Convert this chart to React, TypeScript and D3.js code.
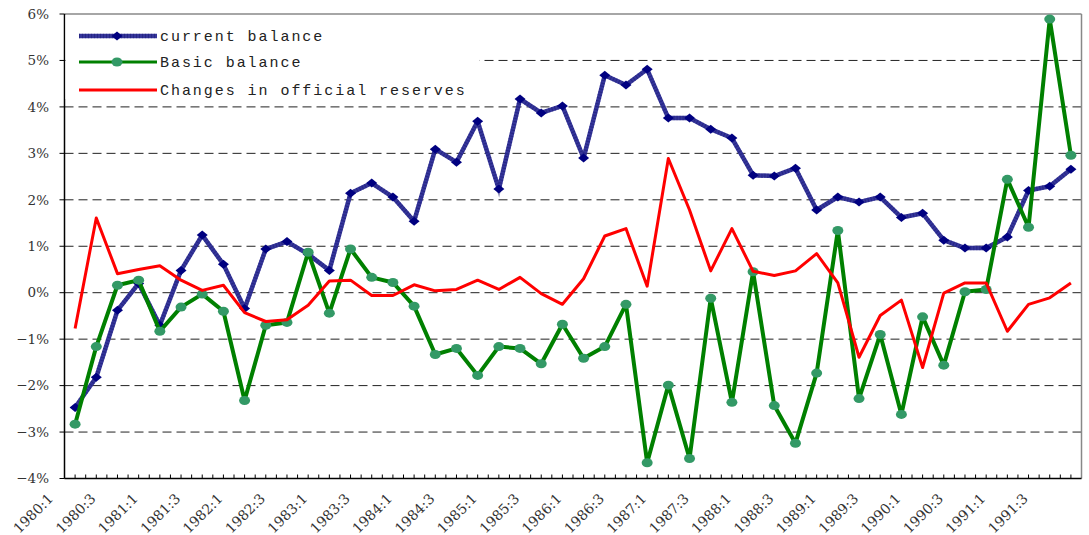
import React from 'react';
import * as d3 from 'd3';

// quarters 1980:1 .. 1991:4
const years = [1980, 1981, 1982, 1983, 1984, 1985, 1986, 1987, 1988, 1989, 1990, 1991];
const quarters = years.flatMap((y) => [1, 2, 3, 4].map((q) => `${y}:${q}`));

const yTicks = [6, 5, 4, 3, 2, 1, 0, -1, -2, -3, -4];

const currentBalance = [
  -2.47, -1.82, -0.38, 0.2, -0.7, 0.48, 1.24, 0.61, -0.34, 0.94, 1.1, 0.83,
  0.48, 2.14, 2.36, 2.06, 1.54, 3.09, 2.81, 3.69, 2.23, 4.17, 3.87, 4.02,
  2.9, 4.68, 4.47, 4.81, 3.76, 3.76, 3.52, 3.33, 2.53, 2.51, 2.68, 1.78,
  2.06, 1.95, 2.06, 1.62, 1.71, 1.13, 0.96, 0.96, 1.2, 2.2, 2.29, 2.66,
];

const basicBalance = [
  -2.83, -1.16, 0.16, 0.27, -0.83, -0.31, -0.03, -0.4, -2.32, -0.7, -0.64, 0.87,
  -0.44, 0.94, 0.33, 0.22, -0.29, -1.33, -1.2, -1.78, -1.16, -1.2, -1.53, -0.68,
  -1.41, -1.16, -0.25, -3.66, -1.99, -3.57, -0.12, -2.36, 0.45, -2.43, -3.24, -1.73,
  1.34, -2.28, -0.9, -2.62, -0.52, -1.56, 0.02, 0.07, 2.44, 1.41, 5.89, 2.96,
];

const reserveChanges = [
  -0.77, 1.61, 0.41, 0.5, 0.58, 0.27, 0.05, 0.16, -0.43, -0.62, -0.58, -0.27,
  0.25, 0.27, -0.06, -0.06, 0.17, 0.04, 0.07, 0.27, 0.07, 0.33, -0.02, -0.25,
  0.3, 1.22, 1.38, 0.14, 2.89, 1.78, 0.47, 1.38, 0.46, 0.37, 0.47, 0.84,
  0.21, -1.39, -0.49, -0.16, -1.61, -0.01, 0.21, 0.21, -0.83, -0.25, -0.11, 0.21,
];

const legendNames = ['current balance', 'Basic balance', 'Changes in official reserves'];

const W = 1089;
const H = 535;
const left = 64.5;
const right = 1081.5;
const top = 14;
const bottom = 478.5;

const serif = '"DejaVu Serif", serif';
const mono = '"Liberation Mono", monospace';

const diamond = 'M0,-4.5L5.5,0L0,4.5L-5.5,0Z';

export default function App() {
  const x = d3.scaleBand<string>().domain(quarters).range([left, right]).padding(0);
  const y = d3.scaleLinear().domain([-4, 6]).range([bottom, top]);
  const bw = x.bandwidth();
  const cx = (i: number) => (x(quarters[i]) as number) + bw / 2;

  const mkLine = d3
    .line<number>()
    .x((_, i) => cx(i))
    .y((d) => y(d));

  const fmt = (v: number) => (v < 0 ? `\u2212${-v}%` : `${v}%`);

  // ticks at every half band
  const ticks = quarters.flatMap((q) => [x(q) as number, (x(q) as number) + bw / 2]).slice(1);

  const cbPath = mkLine(currentBalance) || '';

  return (
    <div style={{ position: 'absolute', left: 0, top: 0 }}>
      <svg width={W} height={H} style={{ display: 'block', background: '#fff' }}>
        {/* gridlines */}
        {yTicks
          .filter((t) => t !== 6 && t !== -4)
          .map((t) => (
            <line
              key={`g${t}`}
              x1={left}
              x2={right}
              y1={y(t)}
              y2={y(t)}
              stroke="#222"
              strokeWidth={1}
              strokeDasharray="9,5"
            />
          ))}
        {/* frame */}
        <line x1={left} x2={right} y1={top} y2={top} stroke="#888" strokeWidth={1.5} />
        <line x1={right} x2={right} y1={top} y2={bottom} stroke="#888" strokeWidth={1.5} />
        <line x1={left} x2={left} y1={top} y2={bottom} stroke="#000" strokeWidth={1.5} />
        <line x1={left} x2={right} y1={bottom} y2={bottom} stroke="#000" strokeWidth={1.5} />

        {/* y ticks + labels */}
        {yTicks.map((t) => (
          <g key={`y${t}`}>
            <line x1={left - 5} x2={left} y1={y(t)} y2={y(t)} stroke="#000" />
            <text
              x={49}
              y={y(t)}
              dy="0.35em"
              textAnchor="end"
              fontFamily={serif}
              fontSize={13.5}
              fill="#333"
            >
              {fmt(t)}
            </text>
          </g>
        ))}

        {/* x ticks (inward) */}
        {ticks.map((b, i) => (
          <line key={`xt${i}`} x1={b} x2={b} y1={bottom - 4} y2={bottom} stroke="#000" />
        ))}
        {quarters.map((q, i) =>
          i % 2 === 0 ? (
            <text
              key={`xl${q}`}
              transform={`translate(${cx(i) - 21},${bottom + 21}) rotate(-45)`}
              textAnchor="end"
              fontFamily={serif}
              fontSize={14}
              fill="#333"
            >
              {q}
            </text>
          ) : null
        )}

        {/* legend background */}
        <rect x={left + 1} y={top + 1} width={414} height={84} fill="#fff" />

        {/* current balance */}
        <path d={cbPath} fill="none" stroke="#35359a" strokeWidth={4.5} strokeLinejoin="round" />
        <path d={cbPath} fill="none" stroke="#14146a" strokeWidth={4.5} strokeDasharray="1,2" strokeOpacity={0.45} />
        {currentBalance.map((v, i) => (
          <path key={`cb${i}`} d={diamond} transform={`translate(${cx(i)},${y(v)})`} fill="#000080" />
        ))}

        {/* basic balance */}
        <path d={mkLine(basicBalance) || ''} fill="none" stroke="#008000" strokeWidth={4} strokeLinejoin="round" />
        {basicBalance.map((v, i) => (
          <ellipse key={`bb${i}`} cx={cx(i)} cy={y(v)} rx={5.5} ry={4.5} fill="#339966" />
        ))}

        {/* official reserves */}
        <path d={mkLine(reserveChanges) || ''} fill="none" stroke="#ff0000" strokeWidth={3} strokeLinejoin="round" />

        {/* legend */}
        <g>
          <line x1={79} x2={157} y1={36} y2={36} stroke="#35359a" strokeWidth={4.5} />
          <line x1={79} x2={157} y1={36} y2={36} stroke="#14146a" strokeWidth={4.5} strokeDasharray="1,2" strokeOpacity={0.45} />
          <path d={diamond} transform="translate(117,36)" fill="#000080" />
          <line x1={79} x2={157} y1={62} y2={62} stroke="#008000" strokeWidth={3} />
          <ellipse cx={117} cy={62} rx={5.5} ry={4.5} fill="#339966" />
          <line x1={79} x2={157} y1={90} y2={90} stroke="#ff0000" strokeWidth={3} />
          {legendNames.map((n, i) => (
            <text
              key={n}
              x={160}
              y={[36, 62, 90][i]}
              dy="0.35em"
              fontFamily={mono}
              fontSize={15}
              letterSpacing={1.95}
              fill="#222"
            >
              {n}
            </text>
          ))}
        </g>
      </svg>
    </div>
  );
}
